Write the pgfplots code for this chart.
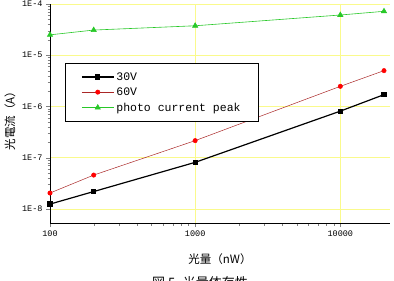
\documentclass[border=0pt]{standalone}
\usepackage{pgfplots}
\pgfplotsset{compat=1.18}
\usepackage{fontspec}
\setmonofont{Liberation Mono}
\newfontfamily\cjk{Noto Sans CJK JP}
\definecolor{gridyel}{RGB}{250,250,140}
\definecolor{lgreen}{RGB}{40,200,40}
\definecolor{dred}{RGB}{170,40,40}
\begin{document}
\begin{tikzpicture}
\useasboundingbox (-50pt,-58pt) rectangle (344pt,223pt);
\begin{axis}[
  scale only axis, width=340pt, height=219pt,
  xmode=log, ymode=log,
  xmin=100, xmax=2.2e4, ymin=5.3e-9, ymax=1e-4,
  axis lines*=left,
  axis line style={line width=0.6pt},
  tick align=outside,
  major tick length=4pt, minor tick length=2.5pt,
  xtick={100,1000,10000}, xticklabels={100,1000,10000},
  ytick={1e-8,1e-7,1e-6,1e-5,1e-4}, yticklabels={1E-8,1E-7,1E-6,1E-5,1E-4},
  tick label style={font=\ttfamily\fontsize{8.5}{9}\selectfont},
  grid=major,
  major grid style={gridyel, line width=0.6pt},
  xlabel={\cjk 光量（nW）}, ylabel={\cjk 光電流（A）},
  label style={font=\cjk\fontsize{11.5}{13}\selectfont},
  xlabel style={at={(axis description cs:0.5,-0.164)}, anchor=center},
  ylabel style={at={(axis description cs:-0.118,0.48)}, anchor=center, rotate=0},
  legend style={at={(0.044,0.73)}, anchor=north west, draw=black, fill=white,
    font=\ttfamily\fontsize{11.5}{13}\selectfont, row sep=2pt, inner xsep=16pt, inner ysep=7pt},
  legend cell align=left,
  legend image code/.code={\draw[mark repeat=2,mark phase=2,#1] plot coordinates {(0pt,0pt)(16pt,0pt)(32pt,0pt)};},
]
\addplot[black, line width=1.2pt, mark=square*, mark size=2pt] coordinates {
 (100,1.24e-8) (200,2.18e-8) (1000,8.1e-8) (10000,8.1e-7) (20000,1.7e-6)};
\addlegendentry{30V}
\addplot[dred, line width=0.5pt, mark=*, mark size=2.2pt, mark options={fill=red, draw=red}] coordinates {
 (100,2.04e-8) (200,4.57e-8) (1000,2.15e-7) (10000,2.47e-6) (20000,5.0e-6)};
\addlegendentry{60V}
\addplot[lgreen, line width=0.6pt, mark=triangle*, mark size=3pt, mark options={fill=lgreen, draw=lgreen}] coordinates {
 (100,2.5e-5) (200,3.1e-5) (1000,3.76e-5) (10000,6.1e-5) (20000,7.2e-5)};
\addlegendentry{photo current peak\hspace{17pt}}
\end{axis}
\node[anchor=north west, font=\cjk\fontsize{13}{14}\selectfont, inner sep=0pt] at (102pt,-53pt) {図 5. 光量依存性};
\end{tikzpicture}
\end{document}
